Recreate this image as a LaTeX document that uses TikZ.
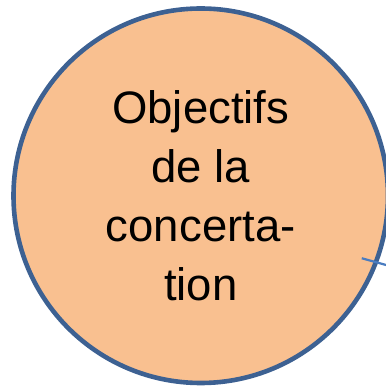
\documentclass[tikz,border=0pt]{standalone}
\usepackage{fontspec}
\setmainfont{Liberation Sans}
\usepackage{tikz}
\usetikzlibrary{calc}

\definecolor{peche}{HTML}{F9C090}
\definecolor{bordbleu}{HTML}{3D6192}
\definecolor{lienbleu}{HTML}{4A7CC0}

\tikzset{
  bulle/.style={circle,draw=bordbleu,fill=peche,line width=4.6pt,
    minimum size=374.5pt,inner sep=0pt,align=center,
    font=\fontsize{45.5}{59}\selectfont},
  lien/.style={draw=lienbleu,line width=2.2pt}
}

\begin{document}
\begin{tikzpicture}[x=1pt,y=1pt]
\useasboundingbox (0,0) rectangle (386,386);
\node [bulle] (objectifs) at (200.75,190.25) {Objectifs\\de la\\concerta-\\tion};
\coordinate (lienA) at ($(objectifs.center)+(161,-62.5)$);
\coordinate (lienB) at ($(objectifs.center)+(188,-70)$);
\draw [lien] (lienA) -- (lienB);
\end{tikzpicture}
\end{document}
